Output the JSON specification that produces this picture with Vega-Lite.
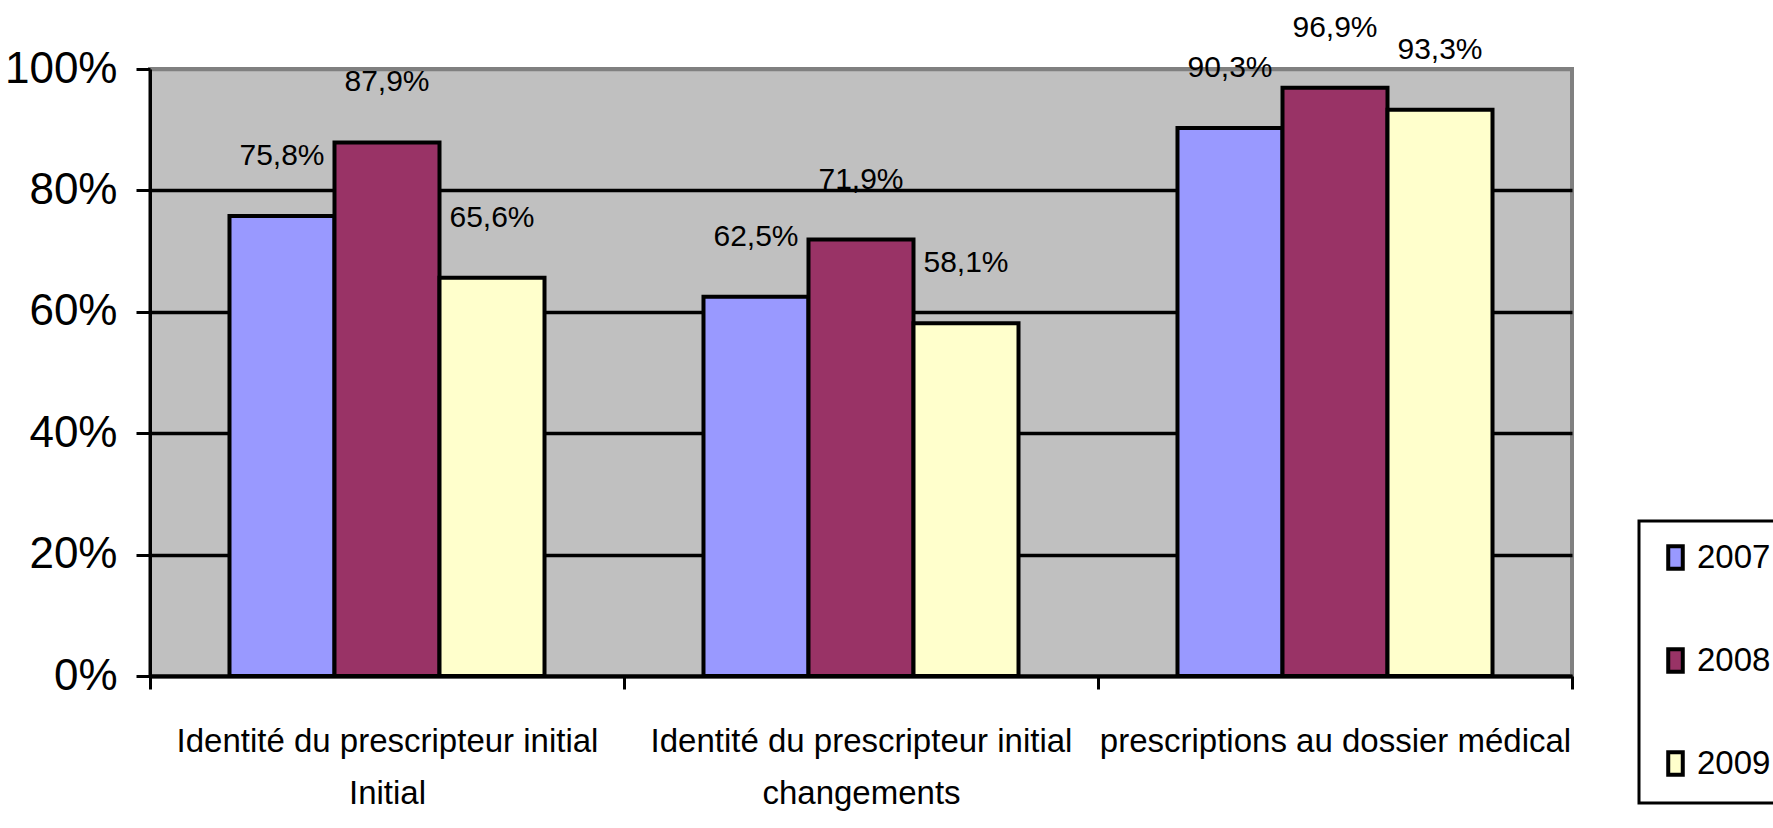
{
  "$schema": "https://vega.github.io/schema/vega-lite/v6.json",
  "width": 1422,
  "height": 607,
  "autosize": {"type": "none"},
  "padding": {"left": 150, "top": 69, "right": 201, "bottom": 152},
  "background": "white",
  "config": {
    "view": {"fill": "#C0C0C0", "stroke": "#808080", "strokeWidth": 4},
    "font": "Liberation Sans",
    "legend": {"strokeWidth": 3}
  },
  "data": {
    "values": [
      {"categorie": "Identité du prescripteur initial\nInitial", "annee": "2007", "valeur": 0.758},
      {"categorie": "Identité du prescripteur initial\nInitial", "annee": "2008", "valeur": 0.879},
      {"categorie": "Identité du prescripteur initial\nInitial", "annee": "2009", "valeur": 0.656},
      {"categorie": "Identité du prescripteur initial\nchangements", "annee": "2007", "valeur": 0.625},
      {"categorie": "Identité du prescripteur initial\nchangements", "annee": "2008", "valeur": 0.719},
      {"categorie": "Identité du prescripteur initial\nchangements", "annee": "2009", "valeur": 0.581},
      {"categorie": "prescriptions au dossier médical", "annee": "2007", "valeur": 0.903},
      {"categorie": "prescriptions au dossier médical", "annee": "2008", "valeur": 0.969},
      {"categorie": "prescriptions au dossier médical", "annee": "2009", "valeur": 0.933}
    ]
  },
  "encoding": {
    "x": {
      "field": "categorie", "type": "nominal", "sort": null,
      "scale": {"paddingInner": 0, "paddingOuter": 0},
      "axis": {
        "title": null, "labelAngle": 0,
        "labelExpr": "split(datum.label, '\\n')",
        "labelFont": "Liberation Sans", "labelFontSize": 33, "labelLineHeight": 52,
        "labelPadding": 36, "labelColor": "black", "labelLimit": 1000,
        "tickBand": "extent", "tickSize": 13, "tickWidth": 3, "tickColor": "black",
        "domainColor": "black", "domainWidth": 4, "zindex": 1
      }
    },
    "xOffset": {"field": "annee", "type": "nominal", "scale": {"paddingInner": 0, "paddingOuter": 0.757}},
    "y": {
      "field": "valeur", "type": "quantitative",
      "scale": {"domain": [0, 1]},
      "axis": {
        "title": null, "values": [0, 0.2, 0.4, 0.6, 0.8, 1], "format": ".0%",
        "labelFont": "Liberation Sans", "labelFontSize": 44, "labelColor": "black",
        "labelPadding": 19, "tickSize": 14, "tickWidth": 3, "tickColor": "black",
        "domainColor": "black", "domainWidth": 3,
        "gridColor": {"condition": {"test": "datum.value >= 1", "value": "#808080"}, "value": "black"},
        "gridWidth": 3.5
      }
    }
  },
  "layer": [
    {
      "mark": {"type": "bar", "stroke": "black", "strokeWidth": 4, "strokeJoin": "miter"},
      "encoding": {
        "color": {
          "field": "annee", "type": "nominal",
          "scale": {"domain": ["2007", "2008", "2009"], "range": ["#9999FF", "#993366", "#FFFFCC"]},
          "legend": {
            "title": null, "orient": "none", "legendX": 1489, "legendY": 452,
            "strokeColor": "black", "fillColor": "white", "padding": 20,
            "rowPadding": 64, "labelFont": "Liberation Sans", "labelFontSize": 33,
            "labelColor": "black", "labelOffset": 5,
            "symbolType": "M-0.65,-1L0.65,-1L0.65,1L-0.65,1Z", "symbolSize": 500,
            "symbolStrokeColor": "black", "symbolStrokeWidth": 4, "symbolOpacity": 1
          }
        }
      }
    },
    {
      "mark": {
        "type": "text", "dy": -60, "baseline": "middle", "fontSize": 30, "font": "Liberation Sans", "color": "black",
        "text": {"expr": "replace(format(datum.valeur, '.1%'), '.', ',')"}
      },
      "encoding": {}
    }
  ]
}
